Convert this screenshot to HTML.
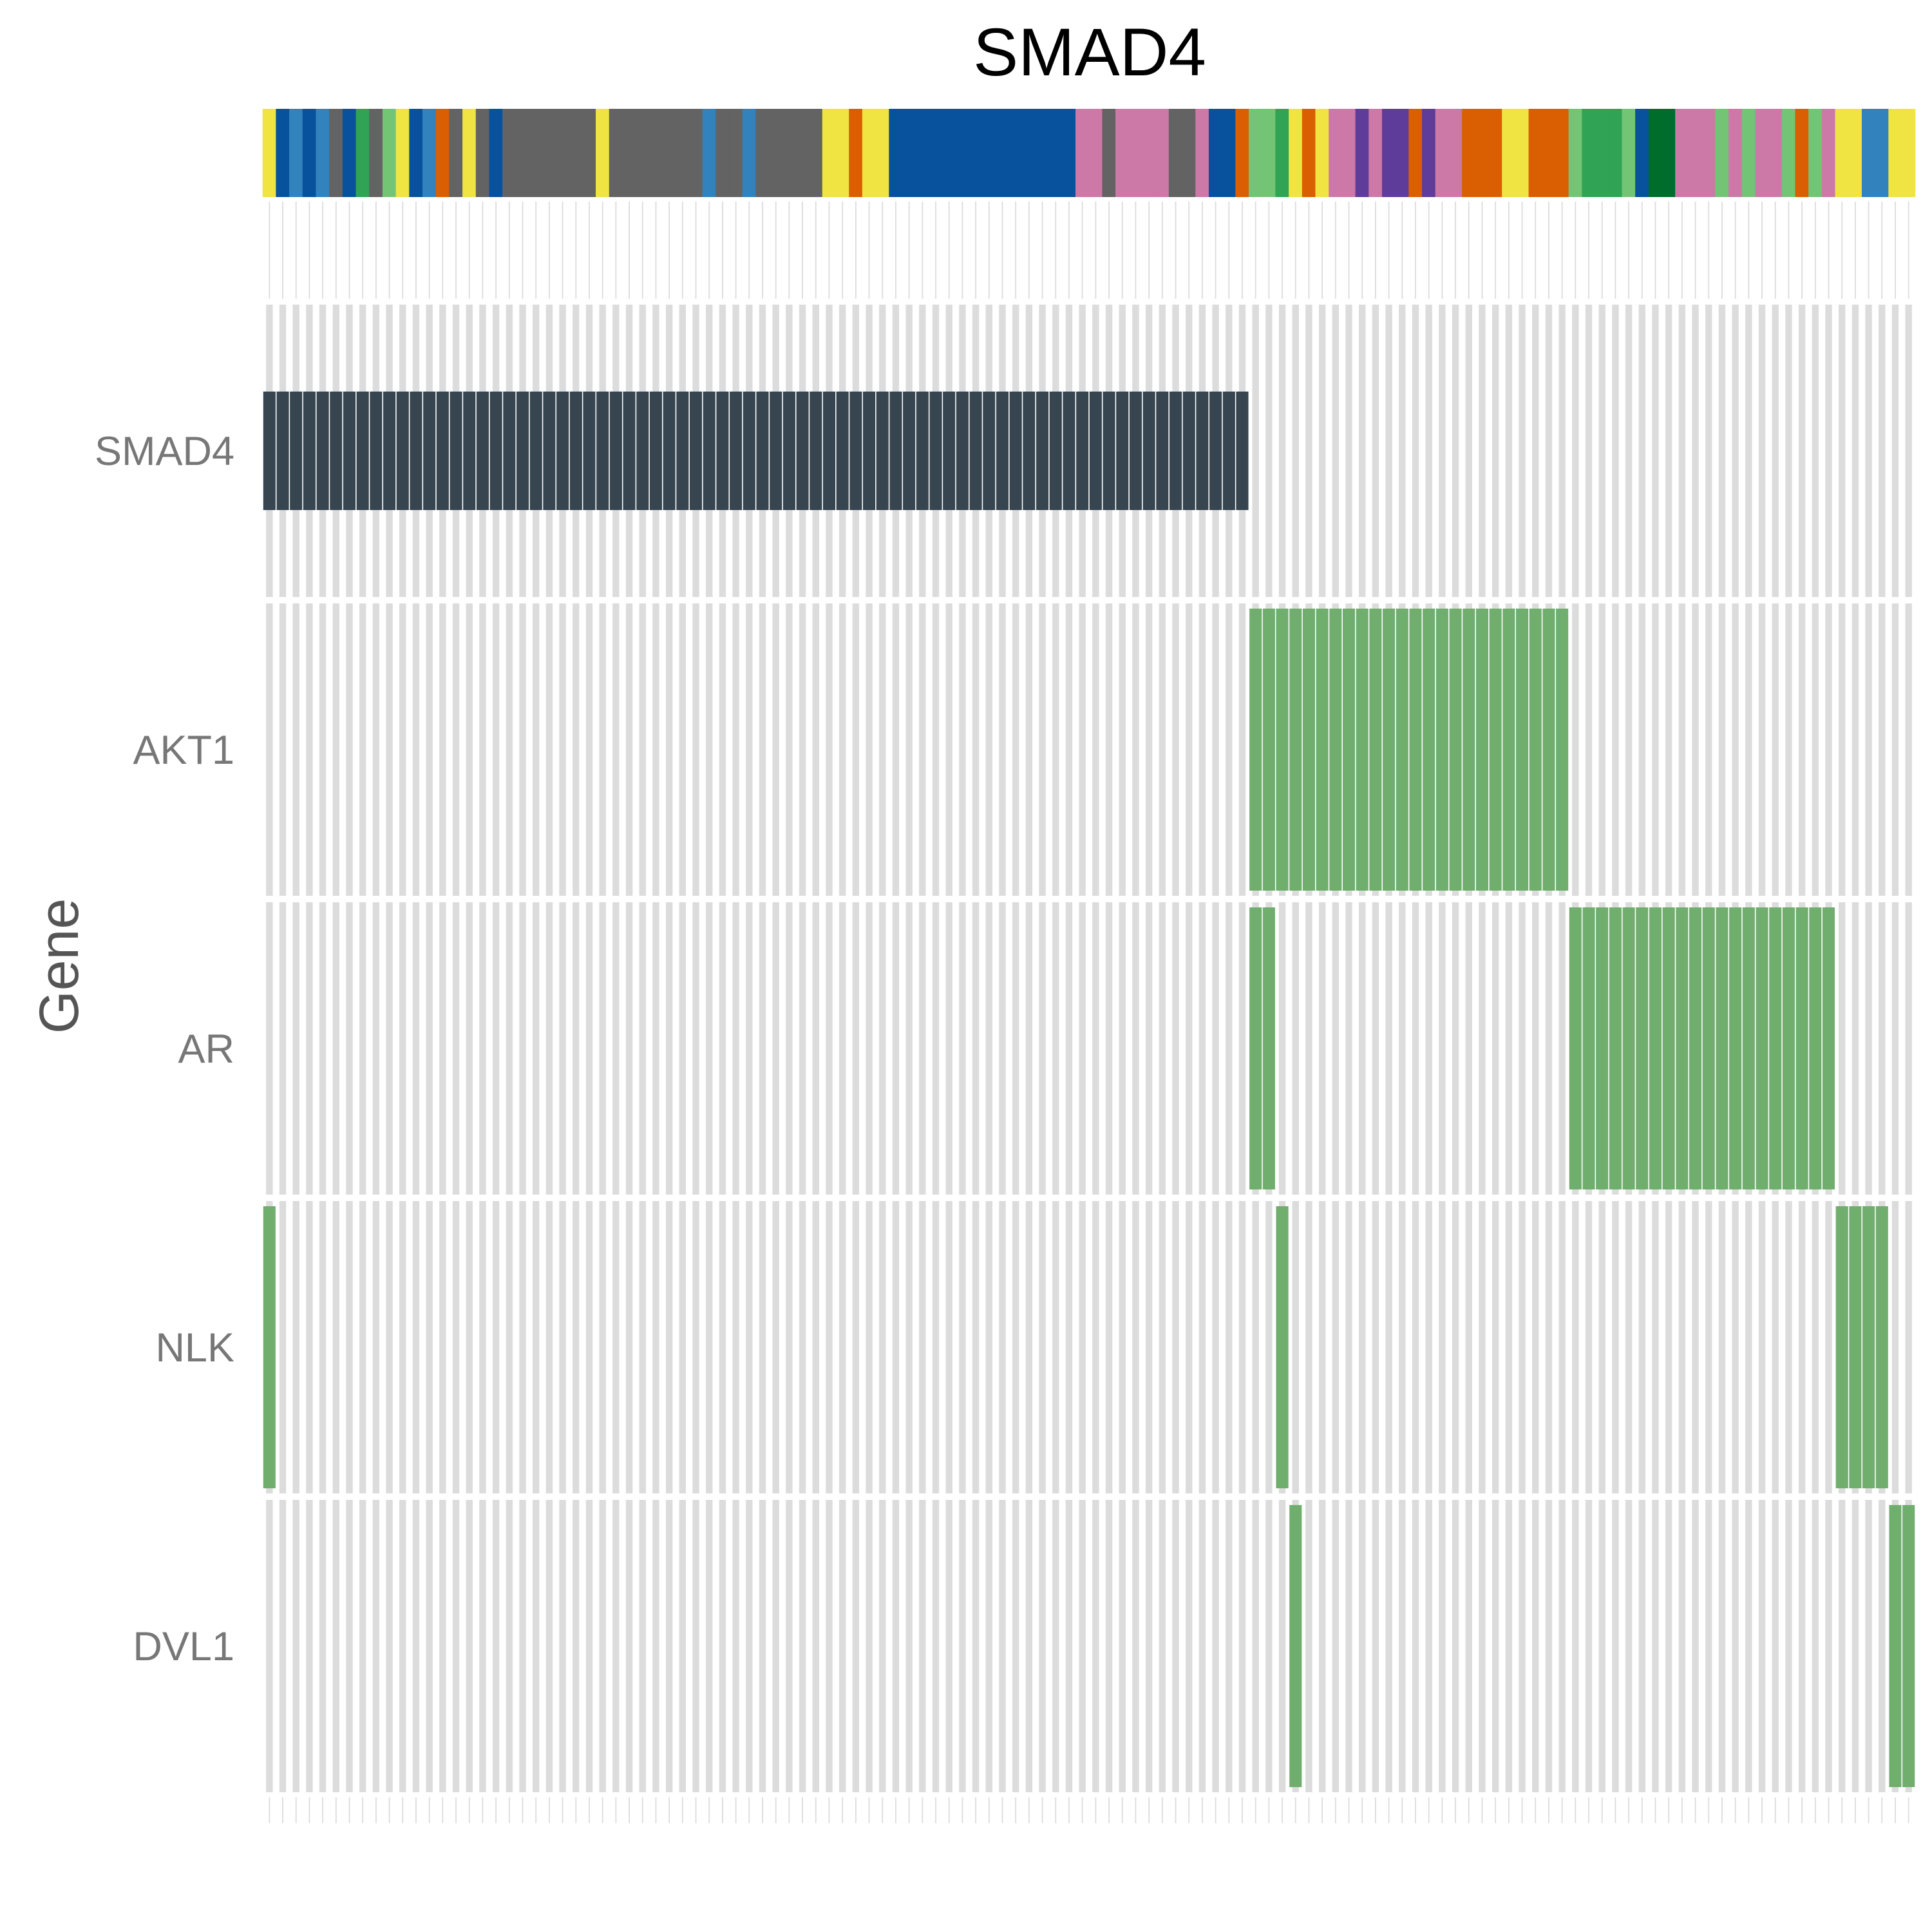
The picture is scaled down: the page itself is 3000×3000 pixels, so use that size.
<!DOCTYPE html>
<html><head><meta charset="utf-8"><style>
html,body{margin:0;padding:0;background:#fff;}
svg{display:block;}
</style></head><body>
<svg id="chart" width="3000" height="3000" viewBox="0 0 3000 3000" xmlns="http://www.w3.org/2000/svg">
<text x="1692" y="117" text-anchor="middle" font-family="Liberation Sans, sans-serif" font-size="105" fill="#000">SMAD4</text>
<text transform="translate(121,1500) rotate(-90)" text-anchor="middle" font-family="Liberation Sans, sans-serif" font-size="86" fill="#555">Gene</text>
<g id="annot"></g>
<g id="grid"></g>
<g id="marks"></g>
<g id="labels"></g>
</svg>
<script>
const genes = ["SMAD4","AKT1","AR","NLK","DVL1"];
const nSamples = 124;
// annotation category code per sample
const annotCodes = ["Y","DB","MB","DB","MB","G","DB","GR","G","LG","Y","DB","MB","O","G","Y","G","DB",
"G","G","G","G","G","G","G","Y","G","G","G","G","G","G","G","MB","G","G","MB","G","G","G","G","G",
"Y","Y","O","Y","Y","DB","DB","DB","DB","DB","DB","DB","DB","DB","DB","DB","DB","DB","DB",
"P","P","G","P","P","P","P","G","G","P","DB","DB","O","LG","LG","GR","Y","O","Y","P","P","PU","P","PU","PU","O","PU","P","P",
"O","O","O","Y","Y","O","O","O","LG","GR","GR","GR","LG","DB","DG","DG","P","P","P","LG","P","LG","P","P","LG","O","LG","P",
"Y","Y","MB","MB","Y","Y"];
const annotColors = {Y:"#f0e442",DB:"#08519c",MB:"#3182bd",G:"#636363",GR:"#31a354",LG:"#74c476",DG:"#006d2c",O:"#d95f02",P:"#cc79a7",PU:"#5e3c99"};
// altered samples per gene as [start,end] index ranges
const smad4Ranges = [[0,73]];
const akt1Ranges = [[74,97]];
const arRanges = [[74,75],[98,117]];
const nlkRanges = [[0,0],[76,76],[118,121]];
const dvl1Ranges = [[77,77],[122,123]];
const geneRanges = [smad4Ranges, akt1Ranges, arRanges, nlkRanges, dvl1Ranges];
const alterationType = ["truncating","amp","amp","amp","amp"];

const NS="http://www.w3.org/2000/svg";
const X0=408, X1=2974, pitch=(X1-X0)/nSamples;
const bandTop=473, rowPitch=464, bandH=454;
const xOf=i=>X0+i*pitch;
const yOf=r=>bandTop+r*rowPitch;
function mk(tag,attrs,parent){const e=document.createElementNS(NS,tag);for(const k in attrs)e.setAttribute(k,attrs[k]);parent.appendChild(e);return e;}
const annot=document.getElementById('annot'), grid=document.getElementById('grid'), marks=document.getElementById('marks'), labels=document.getElementById('labels');

for(let i=0;i<nSamples;i++){
  const a=mk('rect',{x:xOf(i)-0.3,y:169,width:pitch+0.6,height:137,fill:annotColors[annotCodes[i]]},annot);
  
  
  const cx=xOf(i)+pitch/2;
  const l1=mk('rect',{x:cx-0.9,y:313,width:1.8,height:151,fill:"#dcdcdc"},grid);
  
  
  const l2=mk('rect',{x:cx-0.9,y:2791,width:1.8,height:40,fill:"#dcdcdc"},grid);
  
  
  for(let r=0;r<genes.length;r++){
    const b=mk('rect',{x:cx-5.2,y:yOf(r),width:10.4,height:bandH,fill:"#dcdcdc"},grid);
    
    
  }
}
geneRanges.forEach((ranges,r)=>{
  ranges.forEach(([s,e])=>{
    for(let i=s;i<=e;i++){
      let y,h,fill;
      if(alterationType[r]==="truncating"){h=184;y=yOf(r)+bandH/2-h/2;fill="#36454f";}
      else{y=yOf(r)+8;h=bandH-16;fill="#70ae6e";}
      const m=mk('rect',{x:xOf(i)+0.8,y:y,width:pitch-1.6,height:h,fill:fill},marks);
      
      
    }
  });
});
genes.forEach((g,r)=>{
  const t=mk('text',{x:364,y:yOf(r)+bandH/2+22,'text-anchor':'end','font-family':'Liberation Sans, sans-serif','font-size':63,fill:'#777'},labels);
  t.textContent=g;
  
  
});
</script>
</body></html>
